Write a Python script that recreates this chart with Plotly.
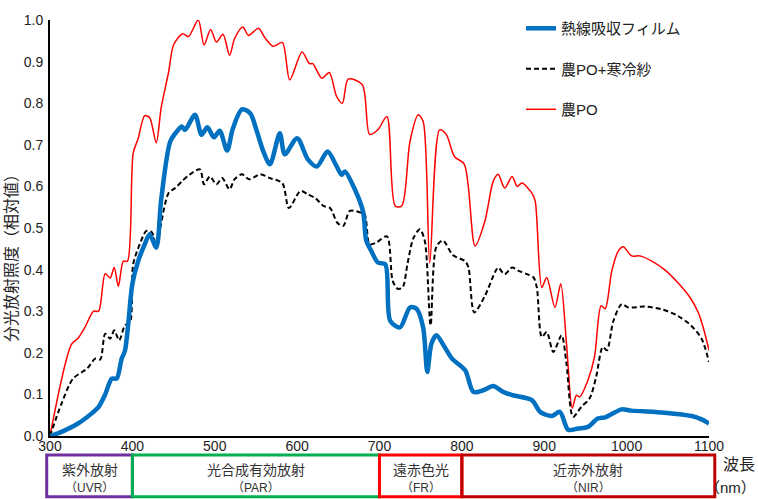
import plotly.graph_objects as go

# Spectral irradiance (relative) by wavelength for three covering conditions
wl_film = [300, 314, 334, 351, 359, 367, 375, 381, 387, 391,
           395, 400, 407, 415, 421, 429, 435, 446, 454, 460,
           464, 476, 484, 491, 499, 506, 515, 522, 533, 543,
           551, 559, 567, 579, 585, 600, 613, 624, 637, 648,
           654, 658, 670, 680, 684, 690, 698, 707, 713, 725,
           737, 745, 753, 758, 763, 769, 779, 788, 804, 814,
           826, 838, 850, 862, 885, 895, 909, 919, 929, 941,
           953, 965, 974, 982, 994, 1006, 1046, 1079, 1091, 1100]
film = [0.0, 0.01, 0.03, 0.055, 0.07, 0.10, 0.138, 0.138, 0.186, 0.205,
        0.27, 0.366, 0.42, 0.461, 0.485, 0.453, 0.569, 0.708, 0.732, 0.744,
        0.736, 0.772, 0.724, 0.742, 0.718, 0.734, 0.686, 0.739, 0.785, 0.776,
        0.733, 0.684, 0.653, 0.728, 0.677, 0.716, 0.665, 0.648, 0.684, 0.648,
        0.628, 0.636, 0.593, 0.54, 0.469, 0.445, 0.417, 0.413, 0.277, 0.261,
        0.309, 0.306, 0.261, 0.154, 0.222, 0.242, 0.214, 0.186, 0.158, 0.106,
        0.11, 0.12, 0.106, 0.098, 0.086, 0.058, 0.048, 0.058, 0.015, 0.018,
        0.022, 0.042, 0.045, 0.053, 0.064, 0.061, 0.056, 0.048, 0.04, 0.03]

wl_cloth = [300, 314, 328, 345, 355, 361, 367, 373, 378, 384,
            391, 397, 401, 409, 417, 424, 429, 435, 444, 452,
            460, 470, 482, 487, 494, 502, 509, 518, 524, 533,
            542, 555, 567, 582, 590, 604, 613, 622, 632, 640,
            649, 656, 664, 676, 682, 688, 696, 709, 716, 722,
            728, 734, 741, 749, 755, 762, 769, 777, 789, 804,
            808, 815, 828, 840, 844, 852, 861, 869, 879, 887,
            891, 897, 903, 911, 921, 927, 935, 945, 955, 963,
            971, 976, 984, 994, 1002, 1022, 1042, 1062, 1078, 1091,
            1100]
cloth = [0.0, 0.078, 0.138, 0.162, 0.186, 0.184, 0.246, 0.234, 0.254, 0.23,
         0.266, 0.273, 0.413, 0.461, 0.493, 0.489, 0.45, 0.513, 0.584, 0.596,
         0.612, 0.629, 0.641, 0.605, 0.624, 0.605, 0.62, 0.593, 0.617, 0.629,
         0.617, 0.629, 0.62, 0.608, 0.548, 0.589, 0.581, 0.572, 0.553, 0.548,
         0.512, 0.505, 0.541, 0.538, 0.533, 0.461, 0.465, 0.48, 0.373, 0.354,
         0.357, 0.414, 0.475, 0.497, 0.469, 0.266, 0.455, 0.47, 0.435, 0.42,
         0.405, 0.297, 0.337, 0.393, 0.405, 0.389, 0.405, 0.397, 0.389, 0.381,
         0.357, 0.238, 0.25, 0.202, 0.242, 0.174, 0.046, 0.07, 0.09, 0.142,
         0.214, 0.206, 0.277, 0.317, 0.309, 0.311, 0.305, 0.289, 0.266, 0.234,
         0.178]

wl_po = [300, 326, 334, 342, 353, 359, 367, 373, 378, 383,
         389, 394, 401, 407, 415, 421, 429, 435, 444, 450,
         461, 468, 480, 487, 495, 502, 510, 518, 524, 534,
         541, 553, 561, 571, 582, 591, 606, 615, 619, 630,
         639, 648, 655, 662, 679, 688, 698, 709, 719, 727,
         737, 747, 753, 761, 773, 781, 791, 803, 816, 828,
         838, 844, 852, 861, 867, 873, 885, 889, 897, 903,
         913, 920, 927, 934, 939, 943, 953, 961, 969, 974,
         982, 990, 996, 1006, 1016, 1030, 1046, 1062, 1077, 1087,
         1093, 1100]
po = [0.0, 0.22, 0.235, 0.26, 0.30, 0.30, 0.39, 0.38, 0.405, 0.36,
      0.42, 0.42, 0.68, 0.715, 0.77, 0.765, 0.705, 0.79, 0.875, 0.94,
      0.967, 0.96, 1.0, 0.94, 0.977, 0.947, 0.966, 0.915, 0.955, 0.983,
      0.963, 0.98, 0.957, 0.937, 0.946, 0.856, 0.923, 0.895, 0.895, 0.86,
      0.874, 0.816, 0.80, 0.858, 0.845, 0.725, 0.736, 0.768, 0.553, 0.553,
      0.708, 0.772, 0.756, 0.416, 0.736, 0.725, 0.672, 0.653, 0.457, 0.517,
      0.612, 0.629, 0.596, 0.624, 0.60, 0.608, 0.584, 0.565, 0.357, 0.381,
      0.309, 0.366, 0.222, 0.067, 0.098, 0.094, 0.134, 0.19, 0.313, 0.306,
      0.397, 0.445, 0.455, 0.433, 0.433, 0.421, 0.40, 0.369, 0.333, 0.297,
      0.261, 0.206]

series_names = ["熱線吸収フィルム", "農PO+寒冷紗", "農PO"]

# Wavelength bands shown under the axis
band_names = ["紫外放射", "光合成有効放射", "遠赤色光", "近赤外放射"]
band_codes = ["（UVR）", "（PAR）", "（FR）", "（NIR）"]
band_edges = [(296, 400), (400, 700), (700, 800), (800, 1107)]
band_colors = ["#7030A0", "#00B050", "#FF0000", "#C00000"]

x_ticks = [300, 400, 500, 600, 700, 800, 900, 1000, 1100]
y_ticks = [0.0, 0.1, 0.2, 0.3, 0.4, 0.5, 0.6, 0.7, 0.8, 0.9, 1.0]
x_range = [300, 1100]

W, H = 758, 499
L, R, T, B = 50, 49, 18, 63
PW, PH = W - L - R, H - T - B


def px(xp):
    return (xp - L) / PW


def py(yp):
    return (H - B - yp) / PH


def wl_to_paper(wl):
    return (wl - x_range[0]) / (x_range[1] - x_range[0])


fig = go.Figure()
fig.add_trace(go.Scatter(x=wl_po, y=po, name=series_names[2], mode="lines",
                         line=dict(color="#FF0000", width=1.5, shape="spline", smoothing=0.8),
                         legendgroup="c", legendrank=3))
fig.add_trace(go.Scatter(x=wl_cloth, y=cloth, name=series_names[1], mode="lines",
                         line=dict(color="#000000", width=2, dash="5px,3px", shape="spline", smoothing=0.8),
                         legendgroup="b", legendrank=2))
fig.add_trace(go.Scatter(x=wl_film, y=film, name=series_names[0], mode="lines",
                         line=dict(color="#0070C0", width=4.5, shape="spline", smoothing=0.8),
                         legendgroup="a", legendrank=1))

shapes = []
annotations = []
for (x0, x1), col, nm, cd in zip(band_edges, band_colors, band_names, band_codes):
    shapes.append(dict(type="rect", xref="paper", yref="paper",
                       x0=wl_to_paper(x0), x1=wl_to_paper(x1),
                       y0=py(497), y1=py(455), line=dict(color=col, width=3),
                       fillcolor="rgba(0,0,0,0)", layer="above"))
    xc = wl_to_paper((x0 + x1) / 2)
    annotations.append(dict(x=xc, y=py(470), xref="paper", yref="paper", text=nm,
                            showarrow=False, font=dict(size=14, color="#333333"),
                            xanchor="center", yanchor="middle"))
    annotations.append(dict(x=xc, y=py(488), xref="paper", yref="paper", text=cd,
                            showarrow=False, font=dict(size=12, color="#333333"),
                            xanchor="center", yanchor="middle"))

annotations.append(dict(x=px(758), y=py(465), xref="paper", yref="paper", text="波長",
                        showarrow=False, font=dict(size=16, color="#222222"),
                        xanchor="right", yanchor="middle", xshift=-1))
annotations.append(dict(x=px(758), y=py(488), xref="paper", yref="paper", text="（nm）",
                        showarrow=False, font=dict(size=15, color="#222222"),
                        xanchor="right", yanchor="middle"))
annotations.append(dict(x=px(12), y=py(253), xref="paper", yref="paper",
                        text="分光放射照度（相対値）", textangle=-90,
                        showarrow=False, font=dict(size=16, color="#222222"),
                        xanchor="center", yanchor="middle"))

fig.update_layout(
    width=W, height=H,
    margin=dict(l=L, r=R, t=T, b=B, pad=0),
    paper_bgcolor="white", plot_bgcolor="white",
    font=dict(family="Liberation Sans, Noto Sans CJK JP, sans-serif", color="#222222"),
    xaxis=dict(range=x_range, tickvals=x_ticks, ticktext=[str(v) for v in x_ticks],
               showgrid=False, zeroline=False, showline=True, linecolor="black",
               linewidth=2, ticks="", ticklabelstandoff=-4,
               tickfont=dict(size=14, color="#222222")),
    yaxis=dict(range=[0, 1.0], tickvals=y_ticks, ticktext=[f"{v:.1f}" for v in y_ticks],
               showgrid=False, zeroline=False, showline=True, linecolor="black",
               linewidth=2, ticks="", ticklabelstandoff=2,
               tickfont=dict(size=14, color="#222222")),
    legend=dict(x=px(521), y=py(10), xanchor="left", yanchor="top",
                bgcolor="rgba(0,0,0,0)", font=dict(size=15, color="#222222"),
                tracegroupgap=18, traceorder="grouped", itemwidth=30),
    shapes=shapes,
    annotations=annotations,
)

fig.write_html("out.html")
